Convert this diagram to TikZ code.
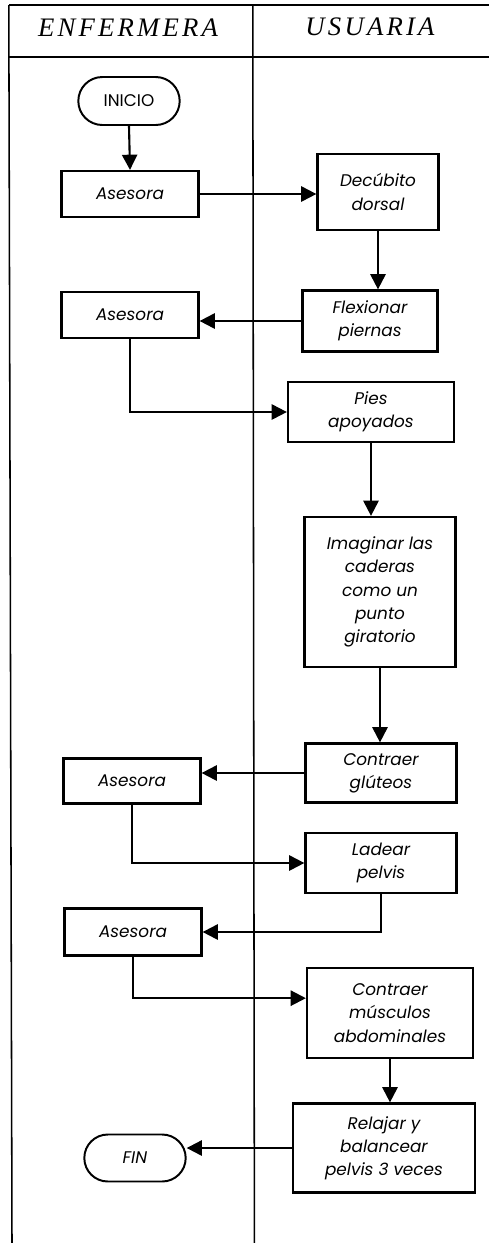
\documentclass[tikz,border=0pt]{standalone}
\usepackage{fontspec}
\usetikzlibrary{arrows.meta, shapes.misc, positioning}
\newfontfamily\boxfont{Poppins}
\newfontfamily\lanefont[LetterSpace=12]{Liberation Serif}

\tikzset{
    stepbox/.style={draw, line width=1.6pt, align=center, inner sep=2pt,
        font=\boxfont\itshape\fontsize{12}{16.5}\selectfont},
    termbox/.style={draw, rounded rectangle, line width=1.4pt, inner sep=2pt,
        minimum width=2.675cm, minimum height=1.2cm},
    flowarrow/.style={line width=1.5pt, -{Triangle[length=0.38cm, width=0.38cm]}},
    laneline/.style={line width=1.1pt},
}

\begin{document}
\begin{tikzpicture}
        \useasboundingbox (0,0) rectangle (12.225,-31.075);

        % swimlanes
        \draw[laneline] (0.22,-0.13) -- (12.225,-0.13);
        \draw[laneline] (0.22,-1.43) -- (12.225,-1.43);
        \draw[laneline] (0.22,-0.13) -- (0.3,-31.075);
        \draw[laneline] (6.32,-0.13) -- (6.36,-31.075);
        \node (enf) at (3.2,-0.68) {\lanefont\itshape\fontsize{19}{22}\selectfont ENFERMERA};
        \node (usu) at (9.25,-0.68) {\lanefont\itshape\fontsize{19}{22}\selectfont USUARIA};

        % steps
        \node[termbox, font=\boxfont\fontsize{12}{14}\selectfont] (inicio) at (3.225,-2.525) {INICIO};
        \node[stepbox, minimum width=3.425cm, minimum height=1.15cm] (ases1) at (3.25,-4.85) {Asesora};
        \node[stepbox, minimum width=3.025cm, minimum height=1.9cm] (decub) at (9.45,-4.8) {Decúbito\\dorsal};
        \node[stepbox, minimum width=3.425cm, minimum height=1.15cm] (ases2) at (3.25,-7.875) {Asesora};
        \node[stepbox, minimum width=3.375cm, minimum height=1.525cm] (flex) at (9.25,-8.025) {Flexionar\\piernas};
        \node[stepbox, minimum width=4.15cm, minimum height=1.5cm] (pies) at (9.275,-10.3) {Pies\\apoyados};
        \node[stepbox, minimum width=3.775cm, minimum height=3.75cm] (imag) at (9.5,-14.8)
            {Imaginar las\\caderas\\como un\\punto\\giratorio};
        \node[stepbox, minimum width=3.775cm, minimum height=1.475cm] (glut) at (9.525,-19.325) {Contraer\\glúteos};
        \node[stepbox, minimum width=3.425cm, minimum height=1.125cm] (ases3) at (3.3,-19.525) {Asesora};
        \node[stepbox, minimum width=3.775cm, minimum height=1.5cm] (ladear) at (9.525,-21.575) {Ladear\\pelvis};
        \node[stepbox, minimum width=3.425cm, minimum height=1.175cm] (ases4) at (3.325,-23.3) {Asesora};
        \node[stepbox, minimum width=4.15cm, minimum height=2.25cm] (musc) at (9.75,-25.325)
            {Contraer\\músculos\\abdominales};
        \node[stepbox, minimum width=4.55cm, minimum height=2.225cm] (relaj) at (9.6,-28.7)
            {Relajar y\\balancear\\pelvis 3 veces};
        \node[termbox, minimum height=1.175cm, font=\boxfont\itshape\fontsize{12}{14}\selectfont] (fin) at (3.375,-28.95) {FIN};

        % connectors
        \draw[flowarrow] (inicio.south) -- (ases1.north);
        \draw[flowarrow] (ases1.east) -- (ases1.east -| decub.west);
        \draw[flowarrow] (decub.south) -- (decub.south |- flex.north);
        \draw[flowarrow] (flex.west) -- (flex.west -| ases2.east);
        \draw[flowarrow] (ases2.south) |- (pies.west);
        \draw[flowarrow] (pies.south) -- (pies.south |- imag.north);
        \draw[flowarrow] (imag.south) -- (imag.south |- glut.north);
        \draw[flowarrow] (glut.west) -- (glut.west -| ases3.east);
        \draw[flowarrow] (ases3.south) |- (ladear.west);
        \draw[flowarrow] (ladear.south) |- (ases4.east);
        \draw[flowarrow] (ases4.south) |- (musc.170);
        \draw[flowarrow] (musc.south) -- (musc.south |- relaj.north);
        \draw[flowarrow] (relaj.west) -- (relaj.west -| fin.east);
\end{tikzpicture}
\end{document}
